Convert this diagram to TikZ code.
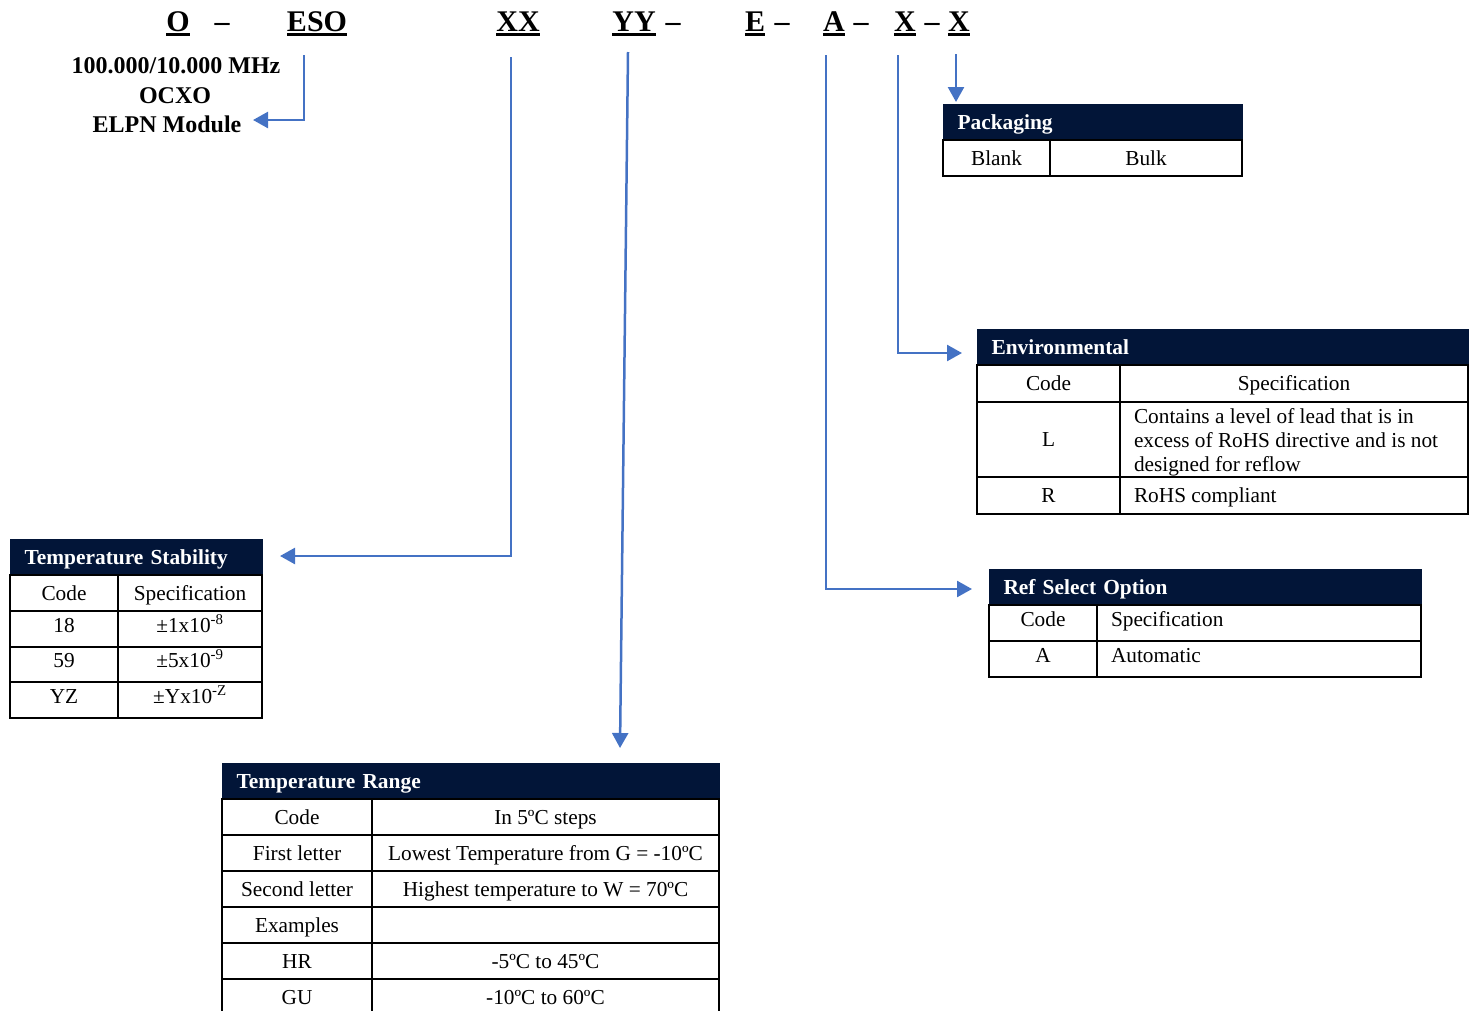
\documentclass[tikz,border=0pt]{standalone}
\usepackage{fontspec}
\setmainfont{Liberation Serif}
\usetikzlibrary{arrows.meta,calc}
\definecolor{navy}{RGB}{2,21,56}
\definecolor{ablue}{RGB}{68,114,196}
\newcommand\bodyf{\fontsize{21.3}{24}\selectfont}
\newcommand\titlef{\fontsize{21.4}{24}\selectfont\bfseries}
\tikzset{
 cellbase/.style={draw=black, line width=2pt, inner sep=0pt, font=\bodyf, text=black},
 cell/.style={cellbase, text height=18pt, text depth=4pt},
 cellup/.style={cellbase, text height=14pt, text depth=8pt},
 celltext/.style={inner sep=0pt, font=\bodyf, text=black, align=flush left},
 tband/.style={fill=navy, draw=navy, line width=1pt, inner sep=0pt, font=\titlef, text=white, align=left, text height=18pt, text depth=4pt},
 conn/.style={draw=ablue, line width=2.5pt, -{Triangle[length=15pt,width=16pt]}},
 hdr/.style={font=\fontsize{30}{32}\selectfont\bfseries, inner sep=0pt, anchor=base},
 sub/.style={font=\fontsize{24}{27}\selectfont\bfseries, inner sep=0pt, anchor=base},
 uline/.style={line width=3pt},
}
% name x1 y1 x2 y2 text
\newcommand\cellC[7][cell]{\node[#1, minimum width={(#5-#3)*1pt}, minimum height={(#6-#4)*1pt}] (#2) at ({(#3+#5)/2},{(#4+#6)/2}) {#7};}
\newcommand\cellL[7][cell]{\node[#1, align=flush left, text width={(#5-#3-28)*1pt}, minimum width={(#5-#3)*1pt}, minimum height={(#6-#4)*1pt}] (#2) at ({(#3+#5)/2},{(#4+#6)/2}) {#7};}
\newcommand\band[6]{\node[tband, text width={(#4-#2-29)*1pt}, minimum width={(#4-#2)*1pt}, minimum height={(#5-#3)*1pt}] (#1) at ({(#2+#4)/2},{(#3+#5)/2}) {#6};}
\newcommand\hl[1]{\draw[uline] ($(#1.base west)+(0,3.5)$) -- ($(#1.base east)+(0,3.5)$);}
\begin{document}
\begin{tikzpicture}[x=1pt,y=-1pt]
\useasboundingbox (0,0) rectangle (1471,1010);
% header code
\node[hdr] (hO) at (178,31) {O}; \hl{hO}
\node[hdr] (d1) at (222,31) {–};
\node[hdr] (hESO) at (317,31) {ESO}; \hl{hESO}
\node[hdr] (hXX) at (518,31) {XX}; \hl{hXX}
\node[hdr] (hYY) at (634,31) {YY}; \hl{hYY}
\node[hdr] (d2) at (673,31) {–};
\node[hdr] (hE) at (755,31) {E}; \hl{hE}
\node[hdr] (d3) at (782,31) {–};
\node[hdr] (hA) at (834,31) {A}; \hl{hA}
\node[hdr] (d4) at (861,31) {–};
\node[hdr] (hX1) at (905,31) {X}; \hl{hX1}
\node[hdr] (d5) at (932,31) {–};
\node[hdr] (hX2) at (959,31) {X}; \hl{hX2}
% description
\node[sub] (hL1) at (176,73) {100.000/10.000 MHz};
\node[sub] (hL2) at (175,103) {OCXO};
\node[sub] (hL3) at (167,132) {ELPN Module};
% Packaging
\band{pT}{943}{104}{1242}{140}{Packaging}
\cellC{pB1}{943}{140}{1050}{176}{Blank}
\cellC{pB2}{1050}{140}{1242}{176}{Bulk}
% Environmental
\band{eT}{977}{329}{1468}{365}{Environmental}
\cellC{eC}{977}{365}{1120}{402}{Code}
\cellC{eS}{1120}{365}{1468}{402}{Specification}
\cellC{eL}{977}{402}{1120}{477}{L}
\cellC{eLs}{1120}{402}{1468}{477}{}
\node[celltext, text width=320pt] (eLt) at (1294,442.5) {Contains a level of lead that is in\\excess of RoHS directive and is not\\designed for reflow};
\cellC{eR}{977}{477}{1120}{514}{R}
\cellL{eRs}{1120}{477}{1468}{514}{RoHS compliant}
% Temperature stability
\band{sT}{10}{539}{262}{575}{Temperature Stability}
\cellC{sC}{10}{575}{118}{611}{Code}
\cellC{sS}{118}{575}{262}{611}{Specification}
\cellC[cellup]{s1}{10}{611}{118}{647}{18}
\cellC[cellup]{s1s}{118}{611}{262}{647}{±1x10\textsuperscript{-8}}
\cellC[cellup]{s2}{10}{647}{118}{682}{59}
\cellC[cellup]{s2s}{118}{647}{262}{682}{±5x10\textsuperscript{-9}}
\cellC[cellup]{s3}{10}{682}{118}{718}{YZ}
\cellC[cellup]{s3s}{118}{682}{262}{718}{±Yx10\textsuperscript{-Z}}
% Ref select
\band{rT}{989}{569}{1421}{605}{Ref Select Option}
\cellC[cellup]{rC}{989}{605}{1097}{641}{Code}
\cellL[cellup]{rS}{1097}{605}{1421}{641}{Specification}
\cellC[cellup]{rA}{989}{641}{1097}{677}{A}
\cellL[cellup]{rAs}{1097}{641}{1421}{677}{Automatic}
% Temperature range
\band{tT}{222}{763}{719}{799}{Temperature Range}
\cellC{tC}{222}{799}{372}{835}{Code}
\cellC{tCs}{372}{799}{719}{835}{In 5ºC steps}
\cellC{t1}{222}{835}{372}{871}{First letter}
\cellC{t1s}{372}{835}{719}{871}{Lowest Temperature from G = -10ºC}
\cellC{t2}{222}{871}{372}{907}{Second letter}
\cellC{t2s}{372}{871}{719}{907}{Highest temperature to W = 70ºC}
\cellC{t3}{222}{907}{372}{943}{Examples}
\cellC{t3s}{372}{907}{719}{943}{}
\cellC{t4}{222}{943}{372}{979}{HR}
\cellC{t4s}{372}{943}{719}{979}{-5ºC to 45ºC}
\cellC{t5}{222}{979}{372}{1015}{GU}
\cellC{t5s}{372}{979}{719}{1015}{-10ºC to 60ºC}
% connectors
\coordinate (cESO) at (304,55); \coordinate (eESO) at (253,120);
\coordinate (cXX) at (511,57); \coordinate (eXX) at (280,556);
\coordinate (cYY) at (628,52); \coordinate (eYY) at (620,748);
\coordinate (cA) at (826,55); \coordinate (eA) at (972,589);
\coordinate (cX1) at (898,55); \coordinate (eX1) at (962,353);
\coordinate (cX2) at (956,54); \coordinate (eX2) at (956,102);
\draw[conn] (cESO) |- (eESO);
\draw[conn] (cXX) |- (eXX);
\draw[conn] (cYY) -- (eYY);
\draw[conn] (cA) |- (eA);
\draw[conn] (cX1) |- (eX1);
\draw[conn] (cX2) -- (eX2);
\end{tikzpicture}
\end{document}
